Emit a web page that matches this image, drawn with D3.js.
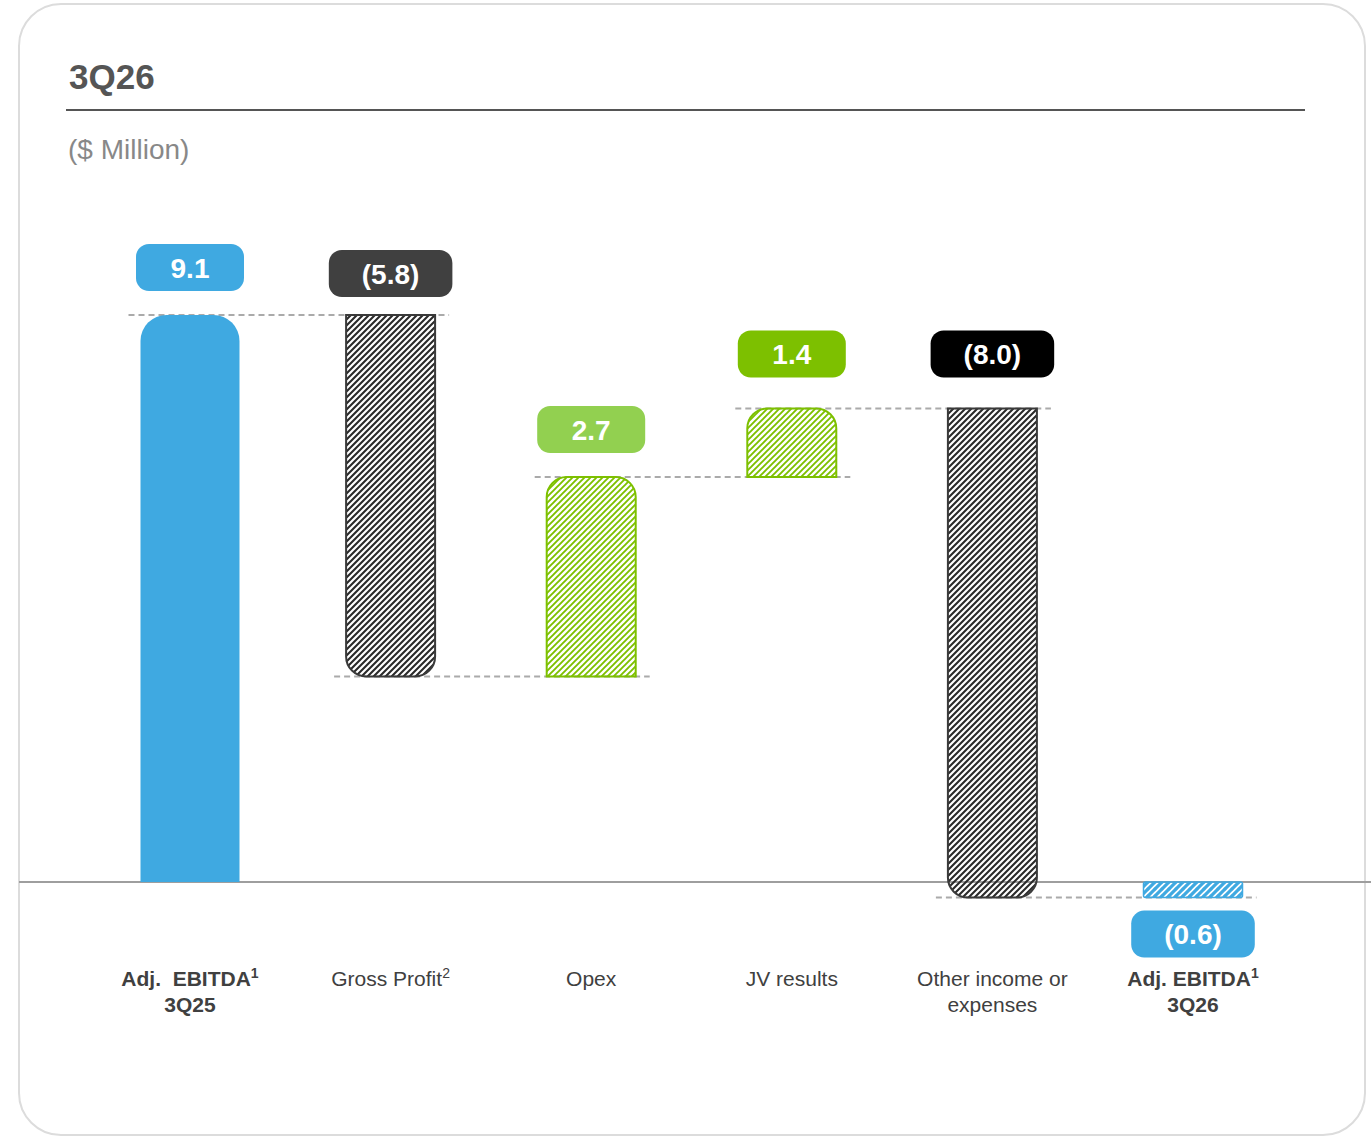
<!DOCTYPE html>
<html>
<head>
<meta charset="utf-8">
<script src="https://cdn.jsdelivr.net/npm/d3@7"></script>
<style>
  body { margin: 0; background: #fff; }
  svg { display: block; font-family: "Liberation Sans", Arial, sans-serif; }
</style>
</head>
<body>
<svg id="chart" width="1371" height="1137"></svg>
<script>
// Categories (line 1, line 2, superscript, bold)
const categories = ['Adj. EBITDA 3Q25', 'Gross Profit', 'Opex', 'JV results', 'Other income or expenses', 'Adj. EBITDA 3Q26'];
const labelLine1 = ['Adj.  EBITDA', 'Gross Profit', 'Opex', 'JV results', 'Other income or', 'Adj. EBITDA'];
const labelLine2 = ['3Q25', '', '', '', 'expenses', '3Q26'];
const labelSup = ['1', '2', '', '', '', '1'];
const labelBold = [true, false, false, false, false, true];

// Printed values ($ Million)
const valueLabels = [9.1, -5.8, 2.7, 1.4, -8.0, -0.6];
// Step heights as drawn in the picture (the bars are not to exact scale)
const drawnSteps = [9.1, -5.8, 3.2, 1.1, -7.85];
// bar kinds
const kinds = ['total', 'down', 'up', 'up', 'down', 'total'];

/* styles */
const blue = '#3FA9E1';
const pillFill = [blue, '#404040', '#92D050', '#7DC000', '#000000', blue];
const hatchOf = { total: null, down: 'hatch-dark', up: 'hatch-green' };
const strokeOf = { down: '#3a3a3a', up: '#7DC000' };

const svg = d3.select('#chart');

// card
svg.append('rect')
  .attr('x', 19).attr('y', 4).attr('width', 1346).attr('height', 1131)
  .attr('rx', 42).attr('fill', '#fff').attr('stroke', '#dcdcdc').attr('stroke-width', 2);

svg.append('text').attr('x', 69).attr('y', 89)
  .attr('font-size', 35).attr('font-weight', 'bold').attr('fill', '#555').text('3Q26');
svg.append('line').attr('x1', 66).attr('x2', 1305).attr('y1', 110).attr('y2', 110)
  .attr('stroke', '#555').attr('stroke-width', 2);
svg.append('text').attr('x', 68).attr('y', 159)
  .attr('font-size', 28).attr('fill', '#888').text('($ Million)');

// patterns
const defs = svg.append('defs');
function hatch(id, color, size, width) {
  defs.append('pattern').attr('id', id)
    .attr('patternUnits', 'userSpaceOnUse').attr('width', size).attr('height', size)
    .append('path')
    .attr('d', `M-1,1 l2,-2 M0,${size} l${size},-${size} M${size - 1},${size + 1} l2,-2`)
    .attr('stroke', color).attr('stroke-width', width);
}
hatch('hatch-dark', '#2a2a2a', 6, 2.1);
hatch('hatch-green', '#7DC000', 6, 1.9);
hatch('hatch-blue', blue, 7, 3.2);

// scales
const x = d3.scalePoint().domain(categories).range([190, 1193]);
const y = d3.scaleLinear().domain([0, 9.1]).range([882, 315]);

// build waterfall levels
let level = 0;
const bars = categories.map((c, i) => {
  let start, end;
  if (i === categories.length - 1) { start = 0; end = level; }
  else if (kinds[i] === 'total') { start = 0; end = drawnSteps[i]; level = end; }
  else { start = level; end = level + drawnSteps[i]; level = end; }
  return { cat: c, i, start, end, kind: kinds[i], value: valueLabels[i] };
});

// zero line
svg.append('line').attr('x1', 19).attr('x2', 1371).attr('y1', y(0)).attr('y2', y(0))
  .attr('stroke', '#9e9e9e').attr('stroke-width', 2);

function barPath(x0, top, bot, w, rt, rb) {
  const h = bot - top;
  rt = Math.min(rt, h / 2, w / 2); rb = Math.min(rb, h / 2, w / 2);
  return `M${x0},${top + rt} A${rt},${rt} 0 0 1 ${x0 + rt},${top} L${x0 + w - rt},${top}` +
    ` A${rt},${rt} 0 0 1 ${x0 + w},${top + rt} L${x0 + w},${bot - rb}` +
    ` A${rb},${rb} 0 0 1 ${x0 + w - rb},${bot} L${x0 + rb},${bot}` +
    ` A${rb},${rb} 0 0 1 ${x0},${bot - rb} Z`;
}

function barWidth(d) { return d.kind === 'total' ? 99 : 89; }

// connectors
bars.slice(0, -1).forEach((d, i) => {
  const nxt = bars[i + 1];
  svg.append('line')
    .attr('x1', x(d.cat) - barWidth(d) / 2 - 12)
    .attr('x2', x(nxt.cat) + barWidth(nxt) / 2 + 14)
    .attr('y1', y(d.end)).attr('y2', y(d.end))
    .attr('stroke', '#aaa').attr('stroke-width', 2).attr('stroke-dasharray', '6,4');
});

// bars
svg.selectAll('path.bar').data(bars).enter().append('path')
  .attr('class', 'bar')
  .attr('d', d => {
    const top = y(Math.max(d.start, d.end)), bot = y(Math.min(d.start, d.end));
    const w = barWidth(d), x0 = x(d.cat) - w / 2;
    if (d.i === bars.length - 1) return barPath(x0, top, bot, w, 2, 2);
    if (d.kind === 'total') return barPath(x0, top, bot, w, 26, 0);
    if (d.kind === 'up') return barPath(x0, top, bot, w, 20, 0);
    return barPath(x0, top, bot, w, 0, 20);
  })
  .attr('fill', d => d.i === bars.length - 1 ? 'url(#hatch-blue)' : d.kind === 'total' ? blue : `url(#${hatchOf[d.kind]})`)
  .attr('stroke', d => d.i === bars.length - 1 ? blue : d.kind === 'total' ? 'none' : strokeOf[d.kind])
  .attr('stroke-width', d => d.i === bars.length - 1 ? 1.5 : 2);

// value pills
const fmt = v => v < 0 ? `(${Math.abs(v).toFixed(1)})` : v.toFixed(1);
bars.forEach(d => {
  const g = svg.append('g');
  const cx = x(d.cat);
  const hi = y(Math.max(d.start, d.end)), lo = y(Math.min(d.start, d.end));
  const below = d.end < 0 && d.kind === 'total';
  const ph = 47;
  const gap = d.i === 1 ? 18 : (d.i === 3 || d.i === 4) ? 31 : 24;
  const py = below ? lo + 13 : hi - gap - ph;
  const t = g.append('text').attr('x', cx).attr('y', py + ph / 2 + 10)
    .attr('text-anchor', 'middle').attr('font-size', 28).attr('font-weight', 'bold')
    .attr('fill', '#fff').text(fmt(d.value));
  const tw = t.node().getComputedTextLength();
  const pw = Math.max(108, tw + 66);
  g.insert('rect', 'text').attr('x', cx - pw / 2).attr('y', py)
    .attr('width', pw).attr('height', ph).attr('rx', 13).attr('fill', pillFill[d.i]);
});

// category labels
bars.forEach(d => {
  const cx = x(d.cat);
  const t1 = svg.append('text').attr('x', cx).attr('y', 986).attr('text-anchor', 'middle')
    .attr('font-size', 21).attr('fill', '#404040')
    .attr('font-weight', labelBold[d.i] ? 'bold' : 'normal')
    .style('white-space', 'pre');
  t1.append('tspan').text(labelLine1[d.i]);
  if (labelSup[d.i]) {
    t1.append('tspan').attr('font-size', 14).attr('dy', -8).text(labelSup[d.i]);
  }
  if (labelLine2[d.i]) {
    svg.append('text').attr('x', cx).attr('y', 1012).attr('text-anchor', 'middle')
      .attr('font-size', 21).attr('fill', '#404040')
      .attr('font-weight', labelBold[d.i] ? 'bold' : 'normal')
      .text(labelLine2[d.i]);
  }
});
</script>
</body>
</html>
